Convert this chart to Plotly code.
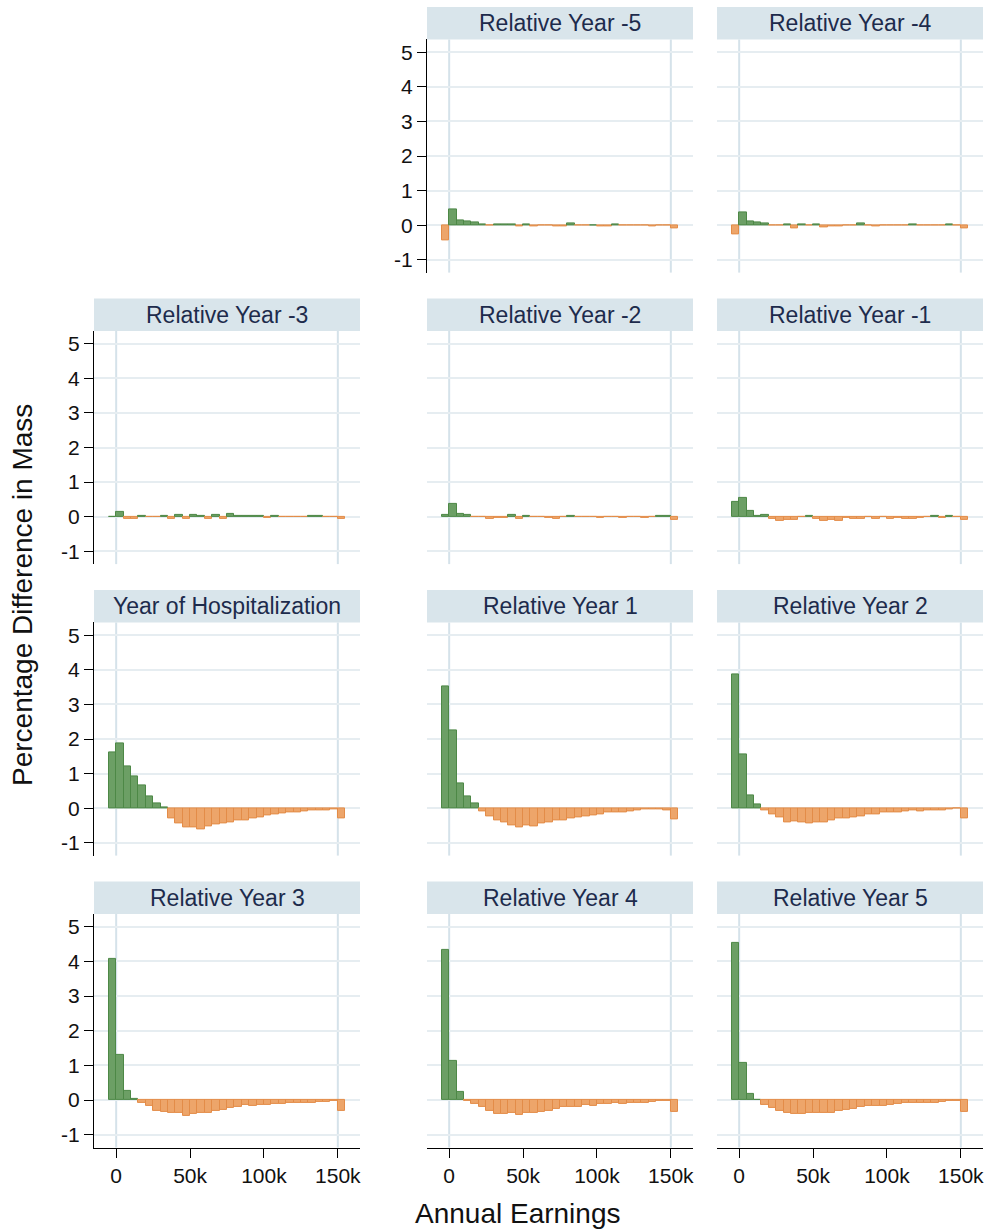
import plotly.graph_objects as go

# Earnings bins of 5k; the first bin holds zero earnings, the last one is top-coded
bin_width = 5000
bin_left = list(range(-5000, 160000, bin_width))
bin_mid = [b + bin_width / 2 for b in bin_left]

# Percentage difference in mass per earnings bin, by year relative to hospitalization
rel_m5 = [-0.43, 0.47, 0.14, 0.10, 0.09, 0.03, -0.02, 0.02, 0.01, 0.02, -0.04, 0.03, -0.04, -0.02, -0.02, -0.04,
          -0.04, 0.06, -0.02, -0.02, 0.00, -0.03, -0.04, 0.01, -0.02, -0.01, -0.02, -0.02, -0.03, -0.02, -0.01, -0.08]
rel_m4 = [-0.27, 0.37, 0.11, 0.08, 0.06, -0.02, -0.02, 0.03, -0.08, 0.03, -0.01, 0.02, -0.07, -0.04, -0.04, -0.02,
          -0.01, 0.06, -0.01, -0.04, -0.02, -0.02, -0.02, -0.02, 0.03, -0.01, -0.02, -0.02, -0.01, 0.01, -0.01, -0.08]
rel_m3 = [0.00, 0.15, -0.07, -0.07, 0.01, -0.01, -0.01, 0.01, -0.06, 0.05, -0.06, 0.04, 0.03, -0.06, 0.04, -0.06,
          0.07, 0.01, 0.03, 0.01, 0.01, -0.03, 0.01, -0.01, -0.01, -0.01, -0.01, 0.01, 0.01, -0.01, -0.01, -0.06]
rel_m2 = [0.06, 0.37, 0.07, 0.04, -0.02, -0.02, -0.07, -0.04, -0.04, 0.05, -0.06, 0.03, -0.02, -0.02, -0.04, -0.06,
          -0.02, 0.01, -0.01, -0.02, -0.02, -0.04, -0.02, -0.02, -0.03, -0.02, -0.02, -0.03, -0.02, 0.01, 0.01, -0.08]
rel_m1 = [0.42, 0.54, 0.16, 0.03, 0.06, -0.06, -0.12, -0.08, -0.10, -0.02, 0.01, -0.06, -0.11, -0.09, -0.12, -0.04,
          -0.07, -0.06, -0.02, -0.05, -0.02, -0.05, -0.03, -0.05, -0.05, -0.04, -0.02, 0.01, -0.04, 0.01, -0.02, -0.10]
rel_0 = [1.62, 1.86, 1.21, 0.93, 0.67, 0.33, 0.14, 0.02, -0.30, -0.44, -0.55, -0.56, -0.60, -0.53, -0.48, -0.43,
         -0.42, -0.34, -0.35, -0.29, -0.26, -0.22, -0.17, -0.14, -0.13, -0.12, -0.10, -0.07, -0.07, -0.06, -0.03, -0.30]
rel_1 = [3.52, 2.24, 0.73, 0.35, 0.13, -0.09, -0.23, -0.35, -0.41, -0.50, -0.56, -0.51, -0.54, -0.44, -0.41, -0.36,
         -0.34, -0.30, -0.26, -0.24, -0.20, -0.17, -0.13, -0.13, -0.11, -0.09, -0.06, -0.04, -0.04, -0.03, -0.05, -0.32]
rel_2 = [3.87, 1.56, 0.37, 0.12, -0.05, -0.17, -0.26, -0.40, -0.38, -0.41, -0.44, -0.41, -0.42, -0.34, -0.30, -0.29,
         -0.27, -0.23, -0.17, -0.19, -0.12, -0.12, -0.12, -0.09, -0.07, -0.08, -0.06, -0.05, -0.05, -0.04, -0.02, -0.30]
rel_3 = [4.08, 1.31, 0.26, 0.02, -0.08, -0.17, -0.32, -0.35, -0.37, -0.38, -0.45, -0.39, -0.38, -0.36, -0.32, -0.28,
         -0.24, -0.21, -0.14, -0.16, -0.13, -0.13, -0.11, -0.11, -0.09, -0.09, -0.08, -0.07, -0.05, -0.06, -0.03, -0.32]
rel_4 = [4.34, 1.14, 0.22, -0.02, -0.10, -0.20, -0.30, -0.40, -0.40, -0.37, -0.42, -0.38, -0.37, -0.34, -0.31, -0.26,
         -0.20, -0.20, -0.20, -0.15, -0.17, -0.12, -0.10, -0.09, -0.10, -0.07, -0.09, -0.08, -0.05, -0.03, -0.02, -0.33]
rel_5 = [4.53, 1.08, 0.17, 0.01, -0.13, -0.23, -0.31, -0.37, -0.41, -0.40, -0.38, -0.38, -0.36, -0.38, -0.30, -0.28,
         -0.25, -0.20, -0.18, -0.17, -0.17, -0.13, -0.11, -0.09, -0.09, -0.08, -0.08, -0.07, -0.05, -0.03, -0.03, -0.34]

# (row, column, title, values)
panels = [
    (1, 2, "Relative Year -5", rel_m5),
    (1, 3, "Relative Year -4", rel_m4),
    (2, 1, "Relative Year -3", rel_m3),
    (2, 2, "Relative Year -2", rel_m2),
    (2, 3, "Relative Year -1", rel_m1),
    (3, 1, "Year of Hospitalization", rel_0),
    (3, 2, "Relative Year 1", rel_1),
    (3, 3, "Relative Year 2", rel_2),
    (4, 1, "Relative Year 3", rel_3),
    (4, 2, "Relative Year 4", rel_4),
    (4, 3, "Relative Year 5", rel_5),
]

y_ticks = [-1, 0, 1, 2, 3, 4, 5]
y_tick_text = ["-1", "0", "1", "2", "3", "4", "5"]
x_ticks = [0, 50000, 100000, 150000]
x_tick_text = ["0", "50k", "100k", "150k"]

W, H = 989, 1230
FONT = "Liberation Sans, Arial, Helvetica, sans-serif"
POS_FILL, POS_EDGE = "#6c9f65", "#4d8846"
NEG_FILL, NEG_EDGE = "#eda56a", "#e38c48"
GRID = "#e6edf1"
VLINE = "#d5e2ea"
STRIP = "#d9e5eb"
TITLE_COLOR = "#1d2b4c"

# panel plot areas in pixels
col_px = {1: (94, 360), 2: (427, 693), 3: (717, 983)}
row_px = {1: (39.4, 272.6), 2: (330.9, 564.1), 3: (622.4, 855.6), 4: (913.9, 1147.5)}
strip_h = 32.5

fig = go.Figure()
shapes = []
annotations = []
layout_axes = {}

for k, (r, c, title, vals) in enumerate(panels, start=1):
    x0, x1 = col_px[c]
    y0, y1 = row_px[r]
    sfx = "" if k == 1 else str(k)
    xa, ya = f"x{sfx}", f"y{sfx}"
    fills = [POS_FILL if v >= 0 else NEG_FILL for v in vals]
    edges = [POS_EDGE if v >= 0 else NEG_EDGE for v in vals]
    fig.add_trace(go.Bar(
        x=bin_mid, y=vals, width=bin_width,
        marker=dict(color=fills, line=dict(color=edges, width=1)),
        xaxis=xa, yaxis=ya, showlegend=False, hoverinfo="x+y",
    ))

    show_y = (c == 1) or (r == 1 and c == 2)
    show_x = (r == 4)
    layout_axes[f"xaxis{sfx}"] = dict(
        domain=[x0 / W, x1 / W], anchor=ya, range=[-15000, 165000],
        showgrid=False, zeroline=False,
        showline=show_x, linecolor="#000", linewidth=1.2,
        tickvals=x_ticks, ticktext=x_tick_text,
        showticklabels=show_x, ticks="outside" if show_x else "",
        ticklen=9, tickwidth=1.2, tickcolor="#000",
        tickfont=dict(family=FONT, size=21, color="#111"),
    )
    layout_axes[f"yaxis{sfx}"] = dict(
        domain=[1 - y1 / H, 1 - y0 / H], anchor=xa, range=[-1.37, 5.37],
        tickvals=y_ticks, ticktext=y_tick_text,
        showgrid=True, gridcolor=GRID, gridwidth=1.6,
        zeroline=False,
        showline=show_y, linecolor="#000", linewidth=1.2,
        showticklabels=show_y, ticks="outside" if show_y else "",
        ticklen=9, tickwidth=1.2, tickcolor="#000",
        tickfont=dict(family=FONT, size=21, color="#111"),
    )

    # reference lines at 0 and 150k
    for xv in (0, 150000):
        shapes.append(dict(type="line", xref=xa, yref=f"{ya} domain", x0=xv, x1=xv, y0=0, y1=1,
                           line=dict(color=VLINE, width=2), layer="below"))

    # title strip
    shapes.append(dict(type="rect", xref="paper", yref="paper",
                       x0=x0 / W, x1=x1 / W, y0=1 - y0 / H, y1=1 - (y0 - strip_h) / H,
                       fillcolor=STRIP, line=dict(width=0), layer="below"))
    annotations.append(dict(text=title, xref="paper", yref="paper",
                            x=(x0 + x1) / 2 / W, y=1 - (y0 - strip_h / 2) / H,
                            xanchor="center", yanchor="middle", showarrow=False,
                            font=dict(family=FONT, size=23, color=TITLE_COLOR)))

annotations.append(dict(text="Annual Earnings", xref="paper", yref="paper",
                        x=517 / W, y=1 - 1213 / H, xanchor="center", yanchor="middle",
                        showarrow=False, font=dict(family=FONT, size=28, color="#111")))
annotations.append(dict(text="Percentage Difference in Mass", xref="paper", yref="paper",
                        x=22 / W, y=1 - 595 / H, xanchor="center", yanchor="middle", textangle=-90,
                        showarrow=False, font=dict(family=FONT, size=28, color="#111")))

fig.update_layout(
    width=W, height=H,
    margin=dict(l=0, r=0, t=0, b=0),
    paper_bgcolor="white", plot_bgcolor="white",
    bargap=0, shapes=shapes, annotations=annotations,
    **layout_axes,
)

fig.write_html("out.html")
